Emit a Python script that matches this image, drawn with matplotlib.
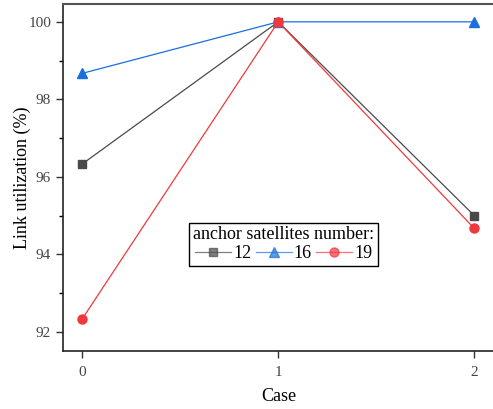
import matplotlib
matplotlib.use("Agg")
import matplotlib.pyplot as plt

cases = [0, 1, 2]
s12 = [96.33, 100.0, 95.0]
s16 = [98.67, 100.0, 100.0]
s19 = [92.33, 100.0, 94.67]
labels = ["12", "16", "19"]

plt.rcParams['font.family'] = ['Liberation Serif', 'DejaVu Serif']

fig = plt.figure(figsize=(4.93, 4.09), dpi=100)
ax = fig.add_axes([0.1278, 0.1418, 0.8742, 0.8484])

ax.plot(cases, s12, color='#4a4a4a', marker='s', markersize=6, lw=0.9, label=labels[0])
ax.plot(cases, s16, color='#1a6fdf', marker='^', markersize=7, lw=0.9, label=labels[1])
ax.plot(cases, s19, color='#f0393c', marker='o', markersize=6.5, lw=0.9, label=labels[2])

ax.set_xlim(-0.097, 2.1)
ax.set_ylim(91.51, 100.46)
ax.set_xticks([0, 1, 2])
ax.set_yticks([92, 94, 96, 98, 100])
ax.set_yticks([93, 95, 97, 99], minor=True)
ax.tick_params(axis='both', direction='out', length=5, width=1, labelsize=11, colors='#333333', labelcolor='#444444')
ax.tick_params(axis='y', which='minor', direction='out', length=3, width=1)
ax.tick_params(axis='x', pad=6)
for s in ['left', 'bottom']:
    ax.spines[s].set_linewidth(1.2)
    ax.spines[s].set_color('#222222')
ax.spines['top'].set_linewidth(1.5)
ax.spines['top'].set_color('#555555')
ax.spines['right'].set_visible(False)

ax.set_xlabel('Case', fontsize=13, labelpad=6)
ax.set_ylabel('Link utilization (%)', fontsize=13, labelpad=-2)

leg = ax.legend(title='anchor satellites number:', ncol=3, loc='center',
                bbox_to_anchor=(0.512, 0.308), fontsize=13, title_fontsize=13,
                frameon=True, fancybox=False, edgecolor='black', framealpha=1,
                handlelength=2.0, handletextpad=0.1, columnspacing=0.25,
                borderpad=0.2, borderaxespad=0.2, labelspacing=0.1)
leg.get_frame().set_linewidth(1.0)
for h in leg.legend_handles:
    h.set_alpha(0.7)

fig.savefig('out.png', dpi=100)
